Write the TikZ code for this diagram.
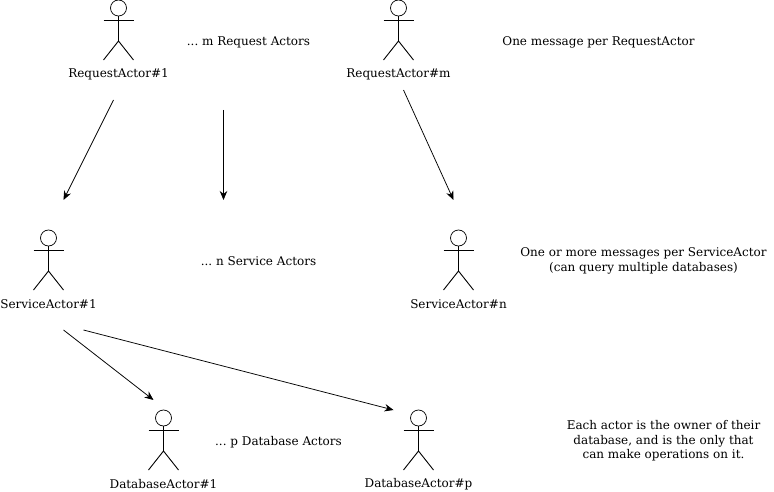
\documentclass[tikz,border=0pt]{standalone}
\usepackage{fontspec}
\setmainfont{DejaVu Serif}
\frenchspacing
\usetikzlibrary{arrows.meta,positioning}

\tikzset{
    note/.style={align=center, inner sep=0pt, font=\fontsize{12}{14.4}\selectfont},
    flow/.style={-{Stealth[length=9pt,width=7.5pt]}, line width=0.75pt},
    limb/.style={line width=0.9pt}
}

% stick figure: name, x of centre, y of head top, label
\newcommand{\actor}[4]{
    \node[draw, circle, minimum size=16pt, inner sep=0pt, line width=0.7pt] (#1head) at (#2,#3+8) {};
    \coordinate (#1neck) at (#2,#3+16);
    \coordinate (#1hip) at (#2,#3+41);
    \draw[limb] (#1neck) -- (#1hip);
    \draw[limb] (#2-15,#3+20) -- (#2+15,#3+20);
    \draw[limb] (#2-15,#3+60) -- (#1hip) -- (#2+15,#3+60);
    \node[note] (#1) at (#2,#3+74.5) {#4};
}

\begin{document}
\begin{tikzpicture}[x=1pt,y=-1pt]
    \useasboundingbox (0,0) rectangle (774,492);

    \actor{reqA}{118.5}{0}{RequestActor\#1}
    \actor{reqM}{398.5}{0}{RequestActor\#m}
    \actor{srvA}{48.5}{230}{ServiceActor\#1}
    \actor{srvN}{458.5}{230}{ServiceActor\#n}
    \actor{dbA}{163.5}{410}{DatabaseActor\#1}
    \actor{dbP}{418.5}{410}{DatabaseActor\#p}

    \node[note] (reqDots) at (248.5,42) {... m Request Actors};
    \node[note] (srvDots) at (258.5,261) {... n Service Actors};
    \node[note] (dbDots) at (278.5,442) {... p Database Actors};

    \node[note] (reqNote) at (598.5,42) {One message per RequestActor};
    \node[note] (srvNote) at (643.5,261) {One or more messages per ServiceActor\\(can query multiple databases)};
    \node[note] (dbNote) at (663.5,441) {Each actor is the owner of their\\database, and is the only that\\can make operations on it.};

    \coordinate (a1s) at (113.5,100);
    \coordinate (a1e) at (63.5,200);
    \coordinate (a2s) at (223.5,110);
    \coordinate (a2e) at (223.5,200);
    \coordinate (a3s) at (403.5,90);
    \coordinate (a3e) at (453.5,200);
    \coordinate (a4s) at (63.5,330);
    \coordinate (a4e) at (153.5,400);
    \coordinate (a5s) at (83.5,330);
    \coordinate (a5e) at (393.5,410);

    \draw[flow] (a1s) -- (a1e);
    \draw[flow] (a2s) -- (a2e);
    \draw[flow] (a3s) -- (a3e);
    \draw[flow] (a4s) -- (a4e);
    \draw[flow] (a5s) -- (a5e);
\end{tikzpicture}
\end{document}
